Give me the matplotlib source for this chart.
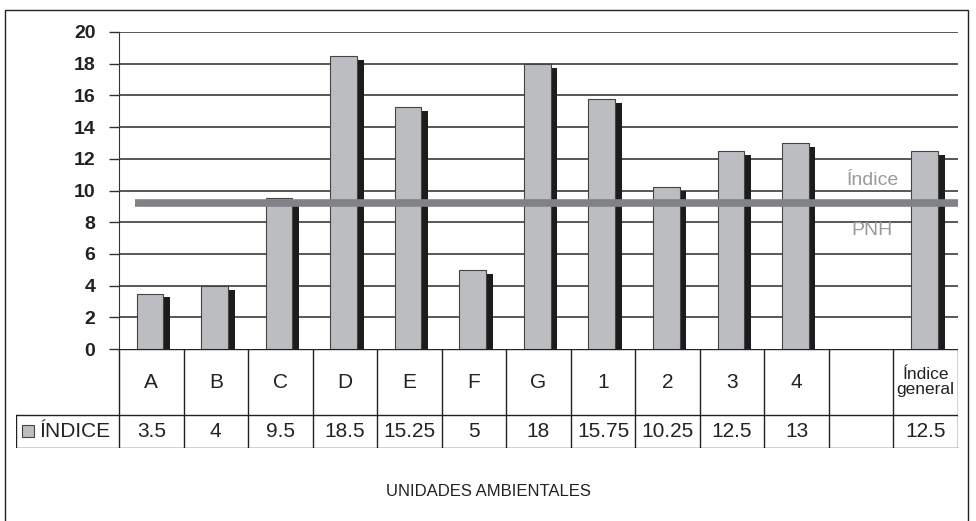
import numpy as np
import matplotlib.pyplot as plt
from matplotlib.patches import Rectangle

plt.rcParams['font.family'] = ['Liberation Sans', 'DejaVu Sans']

# data
categorias = ['A', 'B', 'C', 'D', 'E', 'F', 'G', '1', '2', '3', '4', '', 'Índice\ngeneral']
indice = [3.5, 4, 9.5, 18.5, 15.25, 5, 18, 15.75, 10.25, 12.5, 13, np.nan, 12.5]
etiquetas = ['3.5', '4', '9.5', '18.5', '15.25', '5', '18', '15.75', '10.25', '12.5', '13', '', '12.5']
pnh = 9.2
yticks = list(range(0, 21, 2))

W, H = 976, 521
fig = plt.figure(figsize=(W / 100, H / 100), dpi=100)

# outer frame (bottom edge falls outside the picture)
fig.patches.append(Rectangle((5 / W, -10 / H), 963 / W, 521 / H, transform=fig.transFigure,
                             fill=False, edgecolor='#222222', linewidth=1, clip_on=False))

ax = fig.add_axes([119 / W, 1 - 349 / H, 839 / W, 317 / H])
n = len(categorias)
x = np.arange(n)
ax.set_xlim(0, n)
ax.set_ylim(0, 20)

for y in yticks[1:]:
    ax.axhline(y, color='#2a2a2a', linewidth=1.1, zorder=1)

vals = np.array(indice, dtype=float)
# shadow + front face
ax.bar(x + 0.686, vals - 0.25, width=0.105, align='edge', color='#1c1c1c', linewidth=0, zorder=2)
ax.bar(x + 0.274, vals, width=0.412, align='edge', color='#bcbdc1', edgecolor='#444444',
       linewidth=0.8, zorder=3)

ax.plot([0.25, n], [pnh, pnh], color='#808285', linewidth=5.5, solid_capstyle='butt', zorder=4)
ax.text(11.68, pnh + 1.45, 'Índice', color='#9a9a9a', fontsize=14, ha='center', va='center')
ax.text(11.66, pnh - 1.7, 'PNH', color='#9a9a9a', fontsize=14, ha='center', va='center')

ax.set_yticks(yticks)
ax.set_yticklabels([str(v) for v in yticks], fontsize=14, fontweight='bold', color='#222222')
ax.tick_params(axis='y', length=7, width=1, color='#333333', pad=10)
ax.set_xticks([])
for s in ['top', 'right', 'bottom']:
    ax.spines[s].set_visible(False)
ax.spines['left'].set_color('#333333')

# data table
tab = fig.add_axes([16 / W, 1 - 448 / H, 942 / W, 99 / H])
x0 = -103 / 64.54
tab.set_xlim(x0, n)
tab.set_ylim(0, 99)
tab.axis('off')
lc = '#222222'
tab.plot([0, n], [99, 99], color=lc, lw=1)
tab.plot([x0, n], [33, 33], color=lc, lw=1)
tab.plot([x0, n], [0, 0], color=lc, lw=1)
tab.plot([x0, x0], [0, 33], color=lc, lw=1)
for i in range(n + 1):
    tab.plot([i, i], [0, 99], color=lc, lw=1)
for i in range(n):
    fs = 12.5 if '\n' in categorias[i] else 15
    tab.text(i + 0.5, 66, categorias[i], ha='center', va='center', fontsize=fs,
             linespacing=1.05, color='#222222')
    tab.text(i + 0.5, 16.5, etiquetas[i], ha='center', va='center', fontsize=15, color='#222222')
tab.add_patch(Rectangle((x0 + 0.095, 11), 0.19, 12, facecolor='#bcbdc1', edgecolor='#444444', lw=0.8))
tab.text(x0 + 0.36, 16.5, 'ÍNDICE', ha='left', va='center', fontsize=15, color='#222222')

fig.text(488 / W, 1 - 492 / H, 'UNIDADES AMBIENTALES', ha='center', va='center',
         fontsize=12, color='#222222')

fig.savefig('out.png', dpi=100)
